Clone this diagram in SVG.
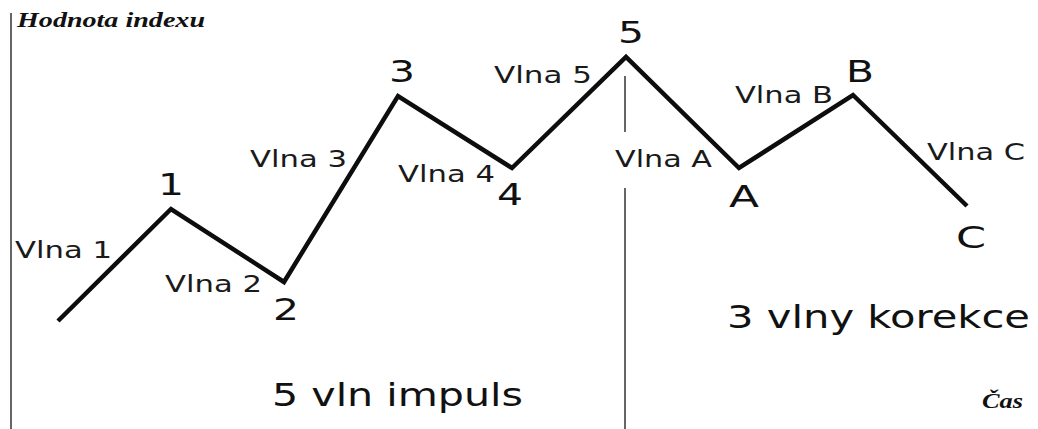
<svg xmlns="http://www.w3.org/2000/svg" width="1038" height="429" viewBox="0 0 1038 429">
<style>
.lbl{font-family:"DejaVu Sans",Verdana,sans-serif;font-size:23px;fill:#1a1a1a}
.num{font-family:"DejaVu Sans",Verdana,sans-serif;font-size:30px;fill:#111;text-anchor:middle}
.big{font-family:"DejaVu Sans",Verdana,sans-serif;font-size:32px;fill:#111}
.axis{font-family:"Liberation Serif","Times New Roman",serif;font-style:italic;font-weight:bold;font-size:20px;fill:#111}
.wave{fill:none;stroke:#0d0d0d;stroke-width:4.5;stroke-linejoin:miter;stroke-linecap:butt}
.guide{stroke:#666;stroke-width:2}
</style>
<rect width="1038" height="429" fill="#fff"/>
<g id="axes">
<line class="guide" x1="11" y1="13" x2="11" y2="429"/>
<text class="axis" x="17" y="27" textLength="188" lengthAdjust="spacingAndGlyphs">Hodnota indexu</text>
<text class="axis" x="982" y="408" textLength="41" lengthAdjust="spacingAndGlyphs">Čas</text>
</g>
<g id="connectors">
<polyline class="wave" points="58,321 171,209 284,282 398,96 512,168 626,57 739,168 853,95 967,206"/>
<line class="guide" x1="625" y1="76" x2="625" y2="132"/>
<line class="guide" x1="625" y1="188" x2="625" y2="429"/>
</g>
<g id="labels">
<text class="lbl" x="15" y="258" textLength="97" lengthAdjust="spacingAndGlyphs">Vlna 1</text>
<text class="lbl" x="165" y="292" textLength="97" lengthAdjust="spacingAndGlyphs">Vlna 2</text>
<text class="lbl" x="250" y="167" textLength="97" lengthAdjust="spacingAndGlyphs">Vlna 3</text>
<text class="lbl" x="398" y="182" textLength="97" lengthAdjust="spacingAndGlyphs">Vlna 4</text>
<text class="lbl" x="494" y="83" textLength="98" lengthAdjust="spacingAndGlyphs">Vlna 5</text>
<text class="lbl" x="615" y="167" textLength="97" lengthAdjust="spacingAndGlyphs">Vlna A</text>
<text class="lbl" x="735" y="103" textLength="98" lengthAdjust="spacingAndGlyphs">Vlna B</text>
<text class="lbl" x="927" y="160" textLength="98" lengthAdjust="spacingAndGlyphs">Vlna C</text>
</g>
<g id="points">
<text class="num" x="171" y="195" textLength="26" lengthAdjust="spacingAndGlyphs">1</text>
<text class="num" x="286" y="320" textLength="26" lengthAdjust="spacingAndGlyphs">2</text>
<text class="num" x="402" y="82" textLength="26" lengthAdjust="spacingAndGlyphs">3</text>
<text class="num" x="510" y="205" textLength="26" lengthAdjust="spacingAndGlyphs">4</text>
<text class="num" x="631" y="43" textLength="26" lengthAdjust="spacingAndGlyphs">5</text>
<text class="num" x="744" y="207" textLength="30" lengthAdjust="spacingAndGlyphs">A</text>
<text class="num" x="860" y="82" textLength="28" lengthAdjust="spacingAndGlyphs">B</text>
<text class="num" x="971" y="248" textLength="30" lengthAdjust="spacingAndGlyphs">C</text>
</g>
<g id="titles">
<text class="big" x="272" y="406" textLength="251" lengthAdjust="spacingAndGlyphs">5 vln impuls</text>
<text class="big" x="727" y="328" textLength="303" lengthAdjust="spacingAndGlyphs">3 vlny korekce</text>
</g>
</svg>
